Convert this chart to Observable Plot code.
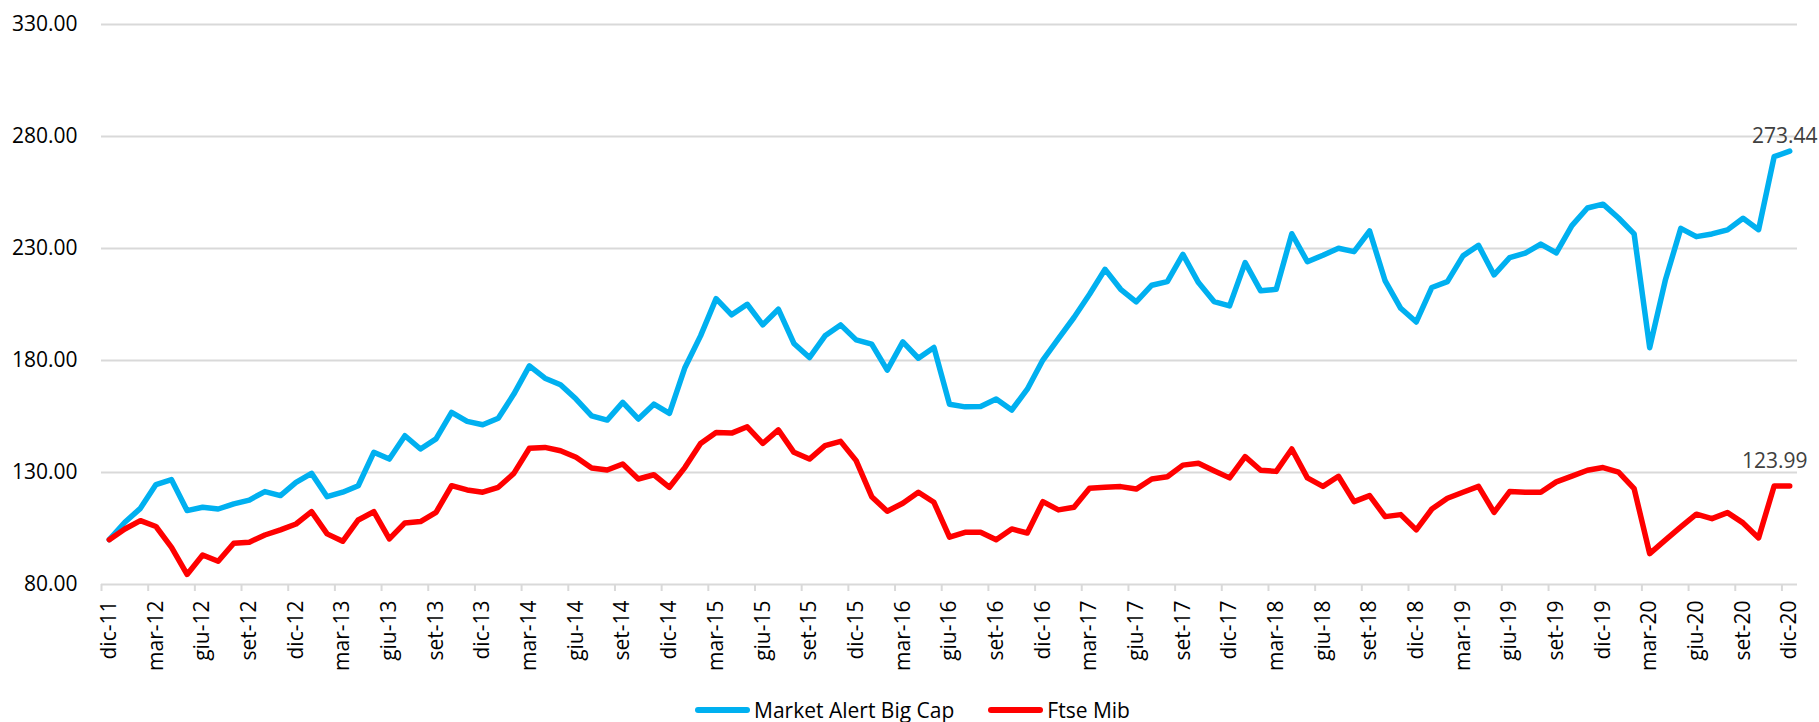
<!DOCTYPE html>
<html><head><meta charset="utf-8">
<script src="https://cdn.jsdelivr.net/npm/d3@7"></script>
<script src="https://cdn.jsdelivr.net/npm/@observablehq/plot@0.6"></script>
<style>
body{margin:0;background:#fff;font-family:"Open Sans",sans-serif;}
#legend{display:flex;justify-content:center;align-items:center;height:24px;font-size:21px;color:#000;gap:34px;padding-left:6px;}
.item{display:flex;align-items:center;}
.sw{width:55px;height:6px;border-radius:3px;margin-right:4px;}
</style></head><body>
<div id="chart"></div>
<div id="legend"></div>
<script>
const monthNames = ["gen","feb","mar","apr","mag","giu","lug","ago","set","ott","nov","dic"];
const seriesNames = ["Market Alert Big Cap", "Ftse Mib"];
const seriesColors = ["#00B0F0", "#FF0000"];
const yTicks = [80, 130, 180, 230, 280, 330];

// Monthly values, dic-11 .. dic-20 (109 months)
const bigCap = [
100,107.8,114,124.6,126.8,113,114.5,113.7,116,117.7,121.5,119.7,
125.6,129.6,119.2,121.2,124.1,139,136,146.4,140.5,145,156.8,152.8,
151.3,154.2,165,177.6,172.1,169.2,162.8,155.3,153.4,161.3,153.9,160.5,
156.4,176.9,191,207.6,200.4,205.1,195.9,202.9,187.6,181.3,191,195.9,
189.2,187.3,175.7,188.3,181,185.8,160.5,159.3,159.5,162.8,157.9,167.2,
180.2,189.8,199.2,209.6,220.7,211.8,206.2,213.6,215.2,227.4,214.8,206.3,
204.4,223.7,211.1,211.8,236.6,224.1,227,230.1,228.6,237.8,215.5,203.3,
197.2,212.6,215.2,226.7,231.4,218.2,225.9,227.9,232,228,240.2,248.1,
249.8,243.6,236.5,185.7,215.7,239,235.3,236.5,238.3,243.5,238.4,271,
273.44];
const ftseMib = [
100,104.8,108.5,105.9,96.6,84.5,93.2,90.4,98.4,98.9,102.1,104.4,
107,112.5,102.6,99.3,108.8,112.5,100.4,107.5,108.1,112.2,124.1,122.2,
121.2,123.4,129.6,140.8,141.2,139.7,136.8,132,131.1,133.8,127.1,129,
123.4,132.3,143,147.9,147.6,150.4,143,149,139,136,142,143.9,
135.3,119.2,112.7,116.3,121.2,116.7,101.1,103.3,103.3,100,104.8,103,
117,113.3,114.5,123,123.4,123.7,122.6,127.1,128.1,133.3,134.1,130.8,
127.6,137.1,131,130.5,140.5,127.6,123.8,128.3,117,119.7,110.3,111.2,
104.4,113.7,118.5,121.2,123.8,112.2,121.5,121.2,121.2,125.8,128.4,131,
132.2,130.2,122.8,93.8,99.8,105.7,111.4,109.4,112.1,107.5,100.8,124,
123.99];

// categories dic-11 .. dic-20
const categories = bigCap.map((_, i) => {
  const m = (11 + i) % 12;
  const y = 11 + Math.floor((11 + i) / 12);
  return monthNames[m] + "-" + y;
});

const data = [];
categories.forEach((c, i) => {
  data.push({i, cat: c, series: seriesNames[0], value: bigCap[i]});
  data.push({i, cat: c, series: seriesNames[1], value: ftseMib[i]});
});
const n = categories.length;
const labelTicks = d3.range(0, n, 3);
const boundaryTicks = d3.range(0, n, 3).map(i => i - 0.5);
const lastBig = [{i: n - 1, value: bigCap[n - 1]}];
const lastFtse = [{i: n - 1, value: ftseMib[n - 1]}];

const chart = Plot.plot({
  width: 1819, height: 698,
  marginLeft: 101, marginRight: 22, marginTop: 24, marginBottom: 114,
  style: {fontFamily: "Open Sans, sans-serif", fontSize: "21px", color: "#000", background: "#fff"},
  x: {type: "linear", domain: [-0.5, n - 0.5]},
  y: {domain: [80, 330]},
  color: {domain: seriesNames, range: seriesColors},
  marks: [
    Plot.gridY(yTicks, {stroke: "#D9D9D9", strokeOpacity: 1, strokeWidth: 2}),
    Plot.axisY(yTicks, {tickSize: 0, tickPadding: 24, tickFormat: d => d.toFixed(2), fontSize: 21, label: null}),
    Plot.axisX(boundaryTicks, {tickSize: 7, tickFormat: () => "", stroke: "#D9D9D9", strokeWidth: 2, strokeOpacity: 1, label: null}),
    Plot.axisX(labelTicks, {tickSize: 0, tickPadding: 16, tickRotate: -90, tickFormat: i => categories[i], fontSize: 21, label: null}),
    Plot.line(data, {x: "i", y: "value", stroke: "series", z: "series", strokeWidth: 5.5, strokeLinejoin: "round", strokeLinecap: "round"}),
    Plot.text(lastBig, {x: "i", y: "value", text: d => d.value.toFixed(2), dx: -5, dy: -15, fill: "#404040", fontSize: 21}),
    Plot.text(lastFtse, {x: "i", y: "value", text: d => d.value.toFixed(2), dx: -15, dy: -25, fill: "#404040", fontSize: 21})
  ]
});
document.getElementById("chart").appendChild(chart);

const legend = document.getElementById("legend");
seriesNames.forEach((name, k) => {
  const it = document.createElement("div");
  it.className = "item";
  const sw = document.createElement("div");
  sw.className = "sw";
  sw.style.background = seriesColors[k];
  const t = document.createElement("span");
  t.textContent = name;
  it.appendChild(sw); it.appendChild(t);
  legend.appendChild(it);
});
</script>
</body></html>
